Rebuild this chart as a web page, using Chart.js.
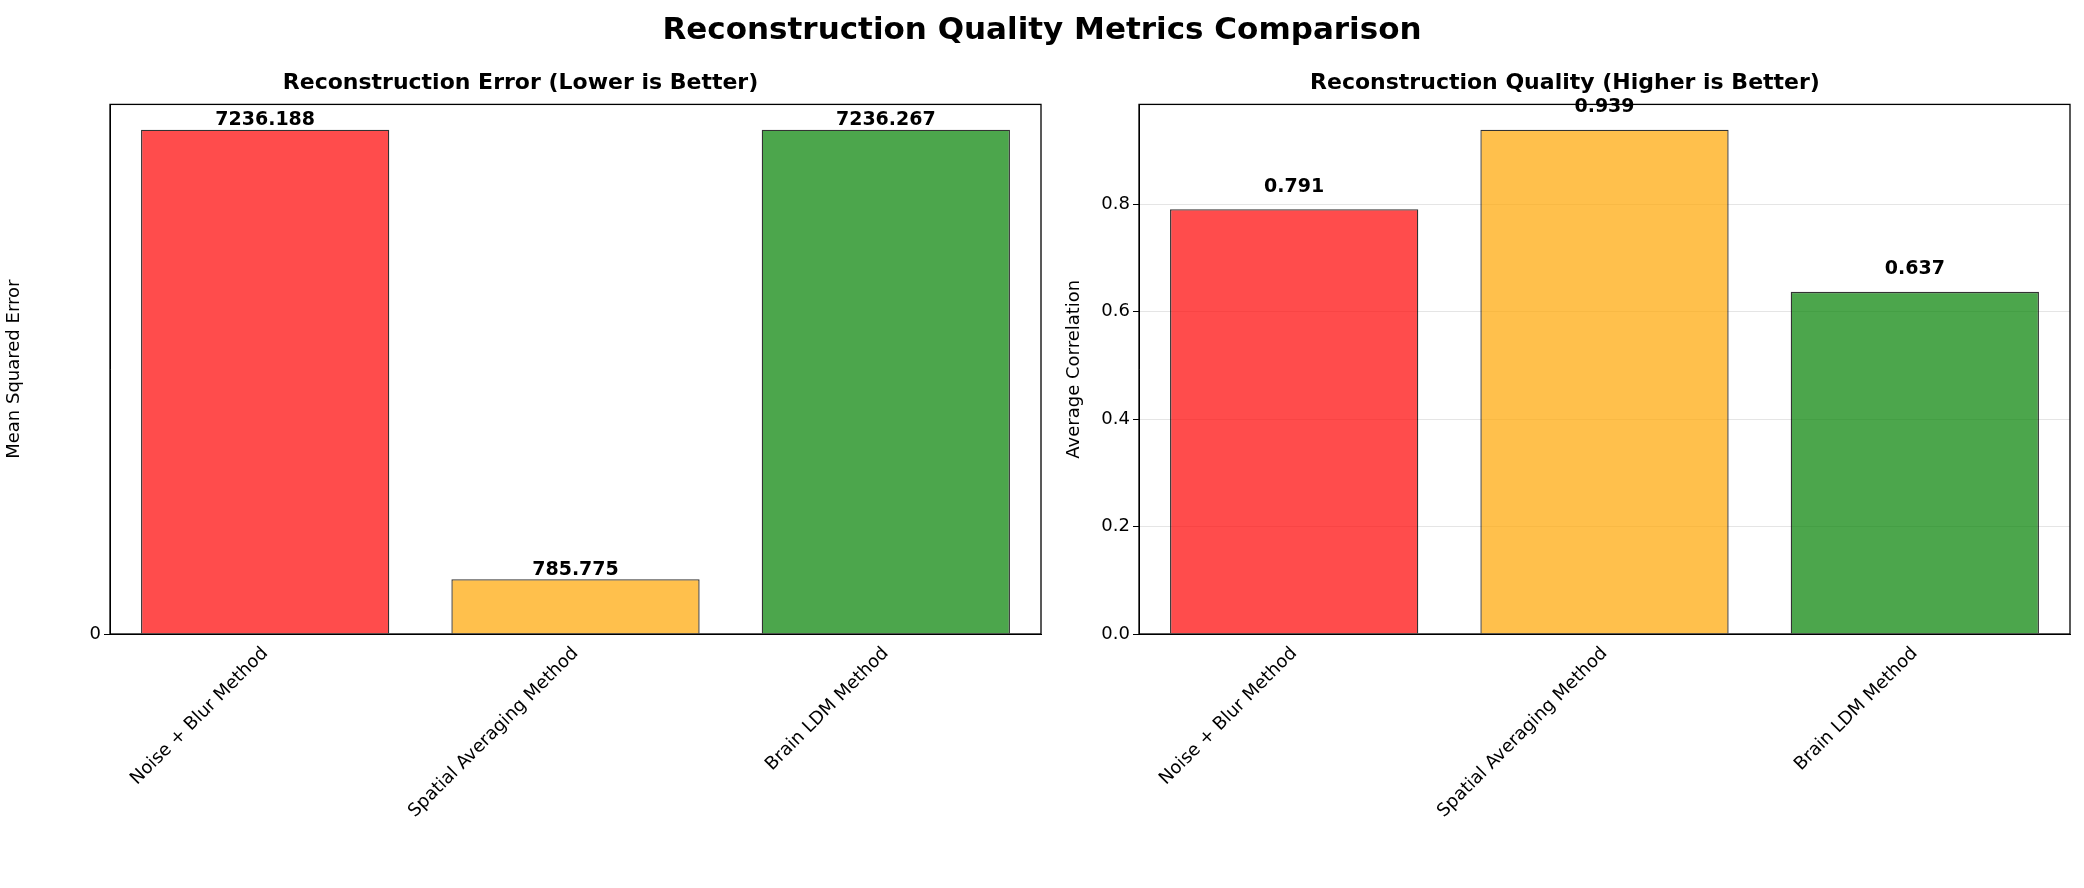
<!DOCTYPE html>
<html>
<head>
<meta charset="utf-8">
<script src="https://cdn.jsdelivr.net/npm/chart.js@4"></script>
<style>
  body { margin: 0; background: #fff; font-family: "DejaVu Sans", sans-serif; }
  #title { position: absolute; top: 10px; left: 0; width: 2084px; text-align: center; font-weight: bold; font-size: 31px; z-index: 2; }
  .box { position: absolute; top: 40px; height: 848px; }
</style>
</head>
<body>
<div id="title">Reconstruction Quality Metrics Comparison</div>
<div class="box" style="left:0;width:1070px"><canvas id="c1"></canvas></div>
<div class="box" style="left:1060px;width:1024px"><canvas id="c2"></canvas></div>
<script>
"use strict";

const methods = ["Noise + Blur Method", "Spatial Averaging Method", "Brain LDM Method"];
const mseValues = [7236.188, 785.775, 7236.267];
const corrValues = [0.791, 0.939, 0.637];
const barColors = ["rgba(255,0,0,0.7)", "rgba(255,165,0,0.7)", "rgba(0,128,0,0.7)"];

Chart.defaults.font.family = "'DejaVu Sans', sans-serif";
Chart.defaults.color = "#000";
Chart.defaults.animation = false;

// frame around the plot area + value labels
const framePlugin = {
  id: "frame",
  afterDatasetsDraw(chart, args, opts) {
    const { ctx, chartArea: a } = chart;
    ctx.save();
    ctx.strokeStyle = "#000";
    ctx.lineWidth = 1.3;
    ctx.strokeRect(a.left, a.top, a.right - a.left, a.bottom - a.top);
    ctx.font = "bold 19px 'DejaVu Sans'";
    ctx.textAlign = "center";
    ctx.textBaseline = "bottom";
    const meta = chart.getDatasetMeta(0);
    meta.data.forEach((bar, i) => {
      const v = chart.data.datasets[0].data[i];
      ctx.fillText(v.toFixed(3), bar.x, bar.y - opts.gap);
    });
    ctx.restore();
  }
};

function makeChart(id, values, title, yLabel, yMax, step, digits, gap, yWidth, padRight) {
  return new Chart(document.getElementById(id), {
    type: "bar",
    data: {
      labels: methods,
      datasets: [{
        data: values,
        backgroundColor: barColors,
        borderColor: "rgba(0,0,0,0.8)",
        borderWidth: 1.3,
        categoryPercentage: 1,
        barPercentage: 0.8
      }]
    },
    options: {
      responsive: false,
      layout: { padding: { left: 0, right: padRight, top: 0, bottom: 0 } },
      plugins: {
        legend: { display: false },
        tooltip: { enabled: false },
        title: { display: true, text: title, font: { size: 22, weight: "bold" }, padding: { top: 30, bottom: 8 } },
        frame: { gap: gap }
      },
      scales: {
        x: {
          grid: { display: false, tickColor: "#000", tickLength: 6 },
          border: { color: "#000" },
          ticks: { minRotation: 45, maxRotation: 45, font: { size: 18 }, autoSkip: false },
          afterFit(s) { s.height = 254; }
        },
        y: {
          min: 0, max: yMax,
          border: { color: "#000" },
          grid: { color: "rgba(0,0,0,0.1)", drawTicks: true, tickColor: "#000", tickLength: 6 },
          ticks: { stepSize: step, font: { size: 18 }, callback: v => v.toFixed(digits) },
          afterBuildTicks(s) { s.ticks = s.ticks.filter(t => Math.abs(t.value / step - Math.round(t.value / step)) < 1e-6); },
          title: { display: true, text: yLabel, font: { size: 18 } },
          afterFit(s) { s.width = yWidth; }
        }
      }
    },
    plugins: [framePlugin]
  });
}

function sizeCanvas(id, w, h) {
  const c = document.getElementById(id);
  c.width = w; c.height = h;
  c.style.width = w + "px"; c.style.height = h + "px";
}
sizeCanvas("c1", 1070, 848);
sizeCanvas("c2", 1024, 848);

makeChart("c1", mseValues, "Reconstruction Error (Lower is Better)", "Mean Squared Error", 7600, 1000, 0, 0, 110, 29);
makeChart("c2", corrValues, "Reconstruction Quality (Higher is Better)", "Average Correlation", 0.986, 0.2, 1, 13, 79, 14);
</script>
</body>
</html>
